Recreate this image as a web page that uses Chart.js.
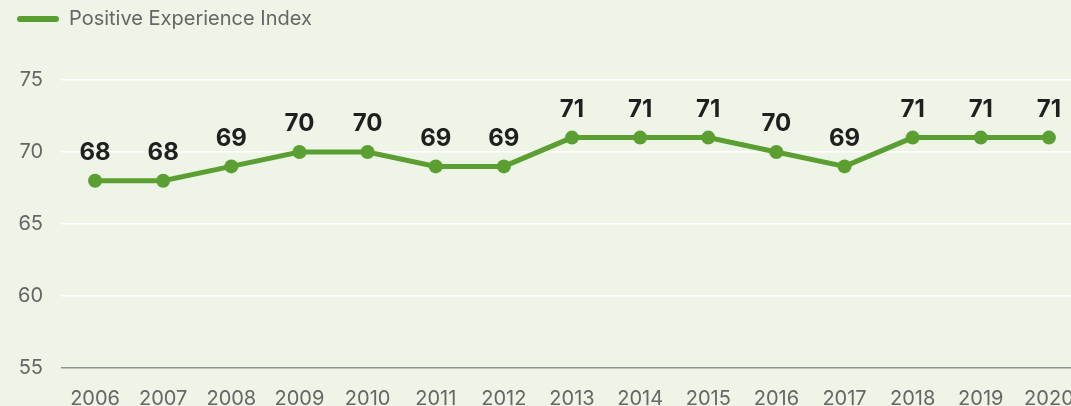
<!DOCTYPE html>
<html>
<head>
<meta charset="utf-8">
<script src="https://cdn.jsdelivr.net/npm/chart.js@4.4.0/dist/chart.umd.min.js"></script>
<style>
    html, body { margin: 0; padding: 0; background: #eef4e6; overflow: hidden; }
    #wrap { position: relative; width: 1090px; height: 406px; }
</style>
</head>
<body>
<div id="wrap"><canvas id="myChart"></canvas></div>
<script>
const years = ['2006', '2007', '2008', '2009', '2010', '2011', '2012', '2013', '2014', '2015', '2016', '2017', '2018', '2019', '2020'];
const positiveIndex = [68, 68, 69, 70, 70, 69, 69, 71, 71, 71, 70, 69, 71, 71, 71];
const yTicks = [55, 60, 65, 70, 75];
const seriesName = 'Positive Experience Index';

const green = '#5b9e31';
const fontName = 'Inter, Roboto, sans-serif';

// value labels above each point
const valueLabels = {
    id: 'valueLabels',
    afterDatasetsDraw(chart) {
        const ctx = chart.ctx;
        const meta = chart.getDatasetMeta(0);
        ctx.save();
        ctx.font = 'bold 24px ' + fontName;
        ctx.fillStyle = '#1f1f1f';
        ctx.textAlign = 'center';
        ctx.textBaseline = 'middle';
        meta.data.forEach((pt, i) => {
            ctx.fillText(positiveIndex[i], pt.x, pt.y - 28);
        });
        ctx.restore();
    }
};

// extra room under the legend
const legendGap = {
    id: 'legendGap',
    beforeInit(chart) {
        const fit = chart.legend.fit;
        chart.legend.fit = function () {
            fit.bind(chart.legend)();
            this.height += 41;
        };
    }
};

const data = {
    labels: years,
    datasets: [{
        label: seriesName,
        data: positiveIndex,
        borderColor: green,
        backgroundColor: green,
        borderWidth: 5,
        pointRadius: 7,
        pointHoverRadius: 7,
        pointBackgroundColor: green,
        pointBorderWidth: 0,
        tension: 0
    }]
};

const config = {
    type: 'line',
    data,
    options: {
        responsive: true,
        maintainAspectRatio: false,
        animation: false,
        layout: { padding: { left: 8, top: 0, right: 0, bottom: 0 } },
        plugins: {
            tooltip: { enabled: false },
            legend: {
                align: 'start',
                labels: {
                    color: '#666',
                    font: { family: fontName, size: 20 },
                    boxWidth: 42,
                    boxHeight: 6,
                    padding: 9,
                    useBorderRadius: true,
                    borderRadius: 3,
                    generateLabels: () => [{
                        text: seriesName,
                        fillStyle: green,
                        strokeStyle: green,
                        lineWidth: 0,
                        borderRadius: 3,
                        fontColor: '#666'
                    }]
                }
            }
        },
        scales: {
            x: {
                offset: true,
                grid: { display: false },
                border: { display: false },
                ticks: {
                    color: '#666',
                    font: { family: fontName, size: 20 },
                    padding: 11,
                    maxRotation: 0,
                    autoSkip: false
                },
                afterFit(scale) { scale.height = 38; }
            },
            y: {
                min: 55,
                max: 75,
                afterBuildTicks(scale) { scale.ticks = yTicks.map(v => ({ value: v })); },
                grid: {
                    drawTicks: false,
                    lineWidth: 1.5,
                    color: (c) => c.tick && c.tick.value === 55 ? '#8f9590' : '#ffffff'
                },
                border: { display: false },
                ticks: {
                    color: '#666',
                    font: { family: fontName, size: 20 },
                    padding: 18
                },
                afterFit(scale) { scale.width = 53; }
            }
        }
    },
    plugins: [valueLabels, legendGap]
};

const myChart = new Chart(document.getElementById('myChart'), config);
</script>
</body>
</html>
